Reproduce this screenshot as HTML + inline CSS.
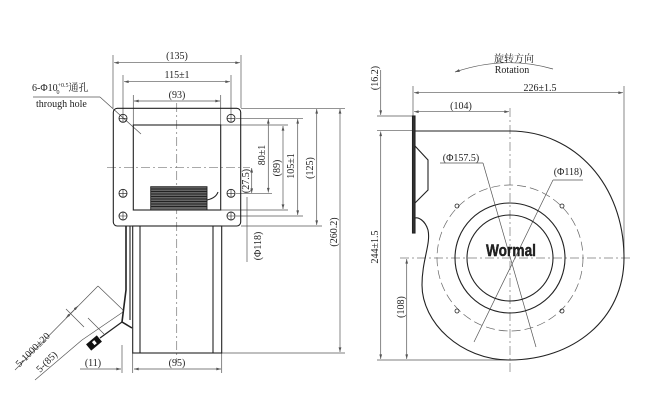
<!DOCTYPE html>
<html><head><meta charset="utf-8"><style>
html,body{margin:0;padding:0;background:#fff}
svg{display:block}
text{font-family:"Liberation Serif","Noto Serif CJK SC",serif;fill:#222}
</style></head><body>
<svg width="669" height="416" viewBox="0 0 669 416" xmlns="http://www.w3.org/2000/svg">
<defs>
<marker id="a" viewBox="0 0 10 6" refX="10" refY="3" markerWidth="8" markerHeight="4" orient="auto-start-reverse"><path d="M0,0 L10,3 L0,6 z" fill="#555"/></marker>
</defs>
<g stroke="#555" stroke-width="0.7" fill="none">
<line x1="113" y1="55" x2="113" y2="108"/><line x1="241" y1="55" x2="241" y2="108"/>
<line x1="114" y1="62.7" x2="240" y2="62.7" marker-start="url(#a)" marker-end="url(#a)"/>
<line x1="123" y1="75" x2="123" y2="114"/><line x1="231" y1="75" x2="231" y2="114"/>
<line x1="124" y1="81.7" x2="230" y2="81.7" marker-start="url(#a)" marker-end="url(#a)"/>
<line x1="133.3" y1="95" x2="133.3" y2="125"/><line x1="220.7" y1="95" x2="220.7" y2="125"/>
<line x1="134" y1="101" x2="220" y2="101" marker-start="url(#a)" marker-end="url(#a)"/>
<line x1="241" y1="108.3" x2="345" y2="108.3"/>
<line x1="236" y1="118.3" x2="303" y2="118.3"/>
<line x1="221" y1="125" x2="288" y2="125"/>
<line x1="236" y1="193.3" x2="272" y2="193.3"/>
<line x1="221" y1="210" x2="288" y2="210"/>
<line x1="236" y1="216" x2="303" y2="216"/>
<line x1="241" y1="226" x2="322" y2="226"/>
<line x1="222" y1="353" x2="345" y2="353"/>
<line x1="268.3" y1="119" x2="268.3" y2="192.5" marker-start="url(#a)" marker-end="url(#a)"/>
<line x1="283" y1="126" x2="283" y2="209" marker-start="url(#a)" marker-end="url(#a)"/>
<line x1="297.7" y1="119" x2="297.7" y2="215" marker-start="url(#a)" marker-end="url(#a)"/>
<line x1="316.7" y1="109" x2="316.7" y2="225" marker-start="url(#a)" marker-end="url(#a)"/>
<line x1="340" y1="109" x2="340" y2="352" marker-start="url(#a)" marker-end="url(#a)"/>
<line x1="251.7" y1="168" x2="251.7" y2="193" marker-start="url(#a)" marker-end="url(#a)"/>
<line x1="247" y1="197" x2="247" y2="262"/>
<line x1="122" y1="345" x2="122" y2="373"/><line x1="132.7" y1="353" x2="132.7" y2="373"/><line x1="221.7" y1="353" x2="221.7" y2="373"/>
<line x1="80" y1="369" x2="121" y2="369" marker-end="url(#a)"/>
<line x1="134" y1="369" x2="221" y2="369" marker-start="url(#a)" marker-end="url(#a)"/>
<line x1="98" y1="286" x2="123" y2="310"/>
<line x1="15" y1="370" x2="98" y2="286"/>
<line x1="66" y1="318" x2="78" y2="306" marker-start="url(#a)" marker-end="url(#a)"/>
<line x1="66" y1="309" x2="84" y2="327"/>
<line x1="88" y1="318" x2="104" y2="334"/>
<line x1="35" y1="380" x2="82" y2="340"/>
<line x1="82" y1="340" x2="123" y2="312"/>
<line x1="33" y1="97" x2="100" y2="97"/>
<line x1="100" y1="97" x2="141" y2="134"/>
</g>
<g stroke="#777" stroke-width="0.7" fill="none" stroke-dasharray="9,3,2,3">
<line x1="176.7" y1="103" x2="176.7" y2="362"/>
<line x1="107" y1="167.7" x2="250" y2="167.7"/>
<line x1="510" y1="108" x2="510" y2="372"/>
<line x1="400" y1="258" x2="632" y2="258"/>
</g>
<g stroke="#222" stroke-width="1.1" fill="none">
<rect x="113.3" y="108.3" width="127.4" height="117.7" rx="4"/>
<rect x="133.3" y="125" width="87.4" height="85"/>
<g stroke-width="0.9">
<circle cx="123" cy="118.3" r="4"/><circle cx="231" cy="118.3" r="4"/>
<circle cx="123" cy="193.3" r="4"/><circle cx="231" cy="193.3" r="4"/>
<circle cx="123" cy="216" r="4"/><circle cx="231" cy="216" r="4"/>
</g>
<path d="M119,118.3h8M123,114.3v8M227,118.3h8M231,114.3v8M119,193.3h8M123,189.3v8M227,193.3h8M231,189.3v8M119,216h8M123,212v8M227,216h8M231,212v8" stroke-width="0.6"/>
<rect x="132.7" y="226" width="89" height="127"/>
<line x1="140" y1="226" x2="140" y2="353"/><line x1="213" y1="226" x2="213" y2="353"/>
<path d="M207,200 Q216,198 218,192"/>
<path d="M126,226 L126,290 L122,322 L132,328" stroke-width="1.6"/>
<line x1="130" y1="226" x2="130" y2="320"/>
<line x1="122" y1="322" x2="100" y2="338" stroke-width="1.3"/>
</g>
<g stroke="#222" stroke-width="0.9">
<rect x="150.7" y="186.7" width="56.3" height="23.3" fill="#666"/>
<path d="M151,189h56M151,191.5h56M151,194h56M151,196.5h56M151,199h56M151,201.5h56M151,204h56M151,206.5h56"/>
</g>
<g transform="translate(94,343) rotate(-40)"><rect x="-7" y="-4" width="14" height="8" fill="#111"/><rect x="-1" y="-2" width="3" height="4" fill="#fff"/></g>
<g font-size="10">
<text x="177" y="59" text-anchor="middle">(135)</text>
<text x="177" y="78" text-anchor="middle">115±1</text>
<text x="177" y="98" text-anchor="middle">(93)</text>
<text x="32" y="91">6-Φ10<tspan font-size="6" dy="-4">+0.5</tspan><tspan font-size="6" dx="-12" dy="7">0</tspan><tspan dx="9" dy="-3">通孔</tspan></text>
<text x="36" y="107">through hole</text>
<text transform="translate(265,155) rotate(-90)" text-anchor="middle">80±1</text>
<text transform="translate(280,168) rotate(-90)" text-anchor="middle">(89)</text>
<text transform="translate(294,166) rotate(-90)" text-anchor="middle">105±1</text>
<text transform="translate(313,168) rotate(-90)" text-anchor="middle">(125)</text>
<text transform="translate(337,232) rotate(-90)" text-anchor="middle">(260.2)</text>
<text transform="translate(249,181) rotate(-90)" text-anchor="middle">(27.5)</text>
<text transform="translate(261,246) rotate(-90)" text-anchor="middle">(Φ118)</text>
<text x="93" y="366" text-anchor="middle">(11)</text>
<text x="177" y="366" text-anchor="middle">(95)</text>
<text transform="translate(35,352) rotate(-45)" text-anchor="middle">5-1000±20</text>
<text transform="translate(49,364) rotate(-45)" text-anchor="middle">5-(85)</text>
</g>
<g stroke="#555" stroke-width="0.7" fill="none">
<line x1="413" y1="86" x2="413" y2="116"/><line x1="624" y1="86" x2="624" y2="258"/>
<line x1="414" y1="92.7" x2="623" y2="92.7" marker-start="url(#a)" marker-end="url(#a)"/>
<line x1="414" y1="111.7" x2="509" y2="111.7" marker-start="url(#a)" marker-end="url(#a)"/>
<line x1="377" y1="116" x2="413" y2="116"/>
<line x1="377" y1="130.7" x2="413" y2="130.7"/>
<line x1="377" y1="360" x2="510" y2="360"/>
<line x1="380.7" y1="70" x2="380.7" y2="115" marker-end="url(#a)"/>
<line x1="380.7" y1="131.5" x2="380.7" y2="359" marker-start="url(#a)" marker-end="url(#a)"/>
<line x1="406.7" y1="259" x2="406.7" y2="359" marker-start="url(#a)" marker-end="url(#a)"/>
<path d="M553,69 Q505,55 455,72" marker-end="url(#a)"/>
<line x1="440" y1="163" x2="483" y2="163"/>
<line x1="483" y1="163" x2="536" y2="347"/>
<line x1="553" y1="180" x2="583" y2="180"/>
<line x1="553" y1="180" x2="474" y2="342"/>
</g>
<g stroke="#222" stroke-width="1.1" fill="none">
<rect x="412.5" y="116" width="2.5" height="117" fill="#333"/>
<path d="M415,146 L428,160 L428,190 L415,203"/>
<path d="M415,131 L510,131 C575,131 624,185 624,258 C624,320 572,360 510,360 C460,360 422,322 422,285 C422,260 431,244 428,230 C425,220 418,217 415,218"/>
<circle cx="510" cy="258" r="55"/>
<circle cx="510" cy="258" r="43"/>
<circle cx="510" cy="258" r="73" stroke="#666" stroke-width="0.7" stroke-dasharray="9,4"/>
<g stroke-width="0.8"><circle cx="457" cy="206" r="2"/><circle cx="562" cy="206" r="2"/><circle cx="457" cy="311" r="2"/><circle cx="562" cy="311" r="2"/></g>
</g>
<g font-size="10">
<text x="514" y="62" text-anchor="middle">旋转方向</text>
<text x="512" y="73" text-anchor="middle">Rotation</text>
<text x="540" y="91" text-anchor="middle">226±1.5</text>
<text x="461" y="109" text-anchor="middle">(104)</text>
<text x="461" y="161" text-anchor="middle">(Φ157.5)</text>
<text x="568" y="175" text-anchor="middle">(Φ118)</text>
<text transform="translate(378,78) rotate(-90)" text-anchor="middle">(16.2)</text>
<text transform="translate(378,247) rotate(-90)" text-anchor="middle">244±1.5</text>
<text transform="translate(404,307) rotate(-90)" text-anchor="middle">(108)</text>
</g>
<text x="511" y="256" text-anchor="middle" font-weight="bold" font-size="17" style="font-family:'Liberation Sans',sans-serif" fill="#111" stroke="#111" stroke-width="0.4" textLength="50" lengthAdjust="spacingAndGlyphs">Wormal</text>
</svg>
</body></html>
